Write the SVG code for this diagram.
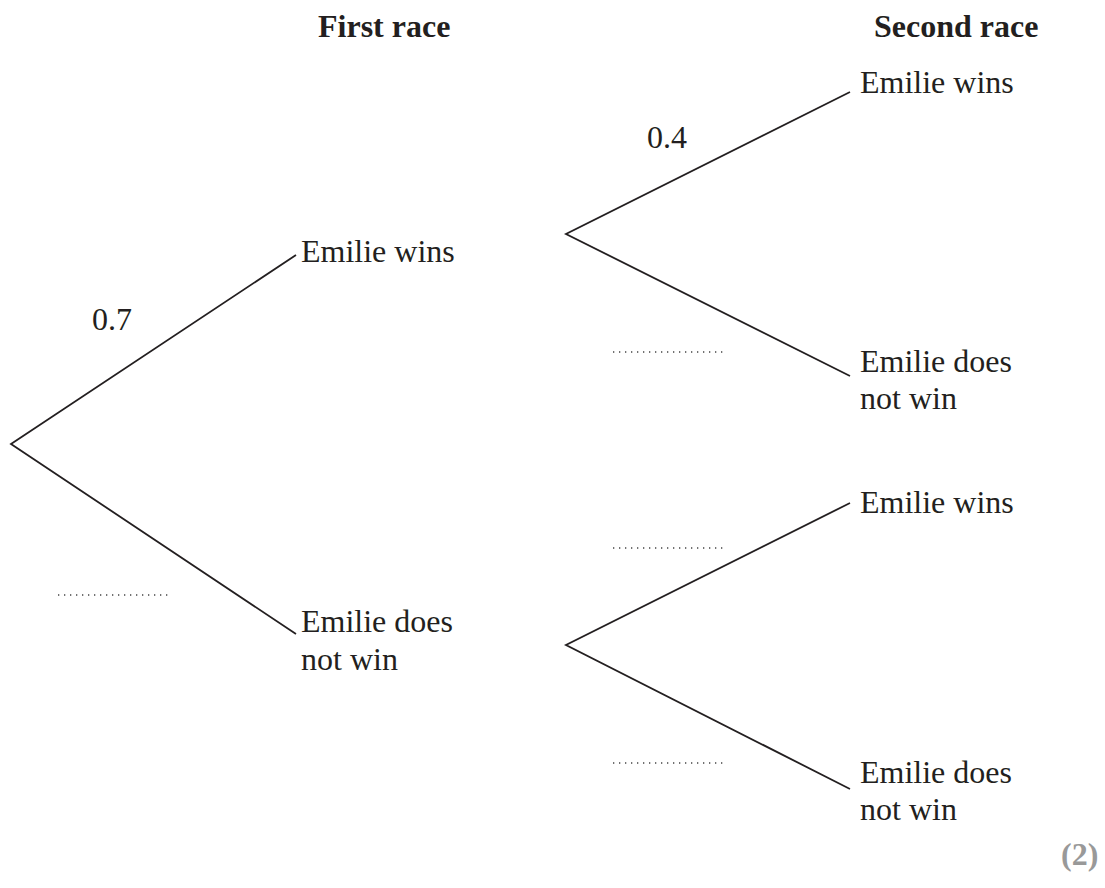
<svg xmlns="http://www.w3.org/2000/svg" width="1105" height="888" viewBox="0 0 1105 888">
<style>
text{font-family:"Liberation Serif","Times New Roman",serif;fill:#231f20;font-size:32px}
.h{font-weight:bold}
.br{stroke:#231f20;stroke-width:1.8;fill:none}
.dot{stroke:#444;stroke-width:1.3;stroke-dasharray:1.3 4.7;fill:none}
.mk{font-weight:bold;fill:#999}
</style>
<rect width="1105" height="888" fill="#fff"/>
<g id="headers">
<text class="h" x="318" y="37">First race</text>
<text class="h" x="874" y="37">Second race</text>
</g>
<g id="connectors">
<path class="br" d="M296 255 L11 444 L296 634"/>
<path class="br" d="M850 92 L566 234 L850 376"/>
<path class="br" d="M850 503 L566 645 L850 789"/>
</g>
<g id="labels">
<text x="92" y="330">0.7</text>
<text x="647" y="148">0.4</text>
<line class="dot" x1="58" y1="595" x2="169" y2="595"/>
<line class="dot" x1="613" y1="352" x2="724" y2="352"/>
<line class="dot" x1="613" y1="548" x2="724" y2="548"/>
<line class="dot" x1="613" y1="763" x2="724" y2="763"/>
</g>
<g id="n-first-win"><text x="301" y="262">Emilie wins</text></g>
<g id="n-first-lose"><text x="301" y="632">Emilie does</text><text x="301" y="670">not win</text></g>
<g id="n-ww"><text x="860" y="93">Emilie wins</text></g>
<g id="n-wl"><text x="860" y="372">Emilie does</text><text x="860" y="409">not win</text></g>
<g id="n-lw"><text x="860" y="513">Emilie wins</text></g>
<g id="n-ll"><text x="860" y="783">Emilie does</text><text x="860" y="820">not win</text></g>
<g id="marks"><text class="mk" x="1061" y="865">(2)</text></g>
</svg>
